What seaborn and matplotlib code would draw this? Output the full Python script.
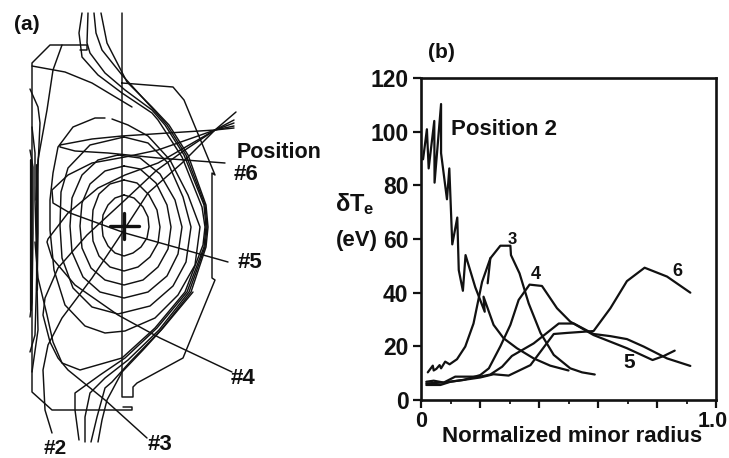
import numpy as np
import matplotlib
matplotlib.use('Agg')
import matplotlib.pyplot as plt
import matplotlib.transforms as mtrans
import seaborn as sns

# panel (b) profiles
pos2_r = [0.0, 0.007, 0.02, 0.026, 0.045, 0.046, 0.068, 0.068, 0.088, 0.096, 0.106, 0.123, 0.128, 0.142, 0.151, 0.184, 0.216, 0.212, 0.246, 0.28, 0.325, 0.382, 0.438, 0.5]
pos2_t = [90, 89.7, 100.9, 86.3, 104, 81, 110.3, 92, 74.8, 86.3, 58, 68, 48.4, 40.7, 54, 42, 32.9, 38.5, 28, 23, 19.3, 15.5, 12.8, 11]
pos3_r = [0.023, 0.04, 0.043, 0.052, 0.063, 0.068, 0.082, 0.097, 0.122, 0.15, 0.178, 0.207, 0.235, 0.269, 0.303, 0.305, 0.334, 0.365, 0.405, 0.45, 0.506, 0.546, 0.589]
pos3_t = [10.3, 12.8, 11, 11.6, 13, 11.8, 14.3, 13.3, 15.2, 19.9, 28.5, 44, 52.8, 57.5, 57.5, 54, 47.2, 36, 25, 16.8, 11.8, 10.3, 9.5]
tail3_r = [0.226, 0.235]
tail3_t = [43.5, 52.8]
pos4_r = [0.018, 0.066, 0.1, 0.145, 0.201, 0.23, 0.269, 0.303, 0.331, 0.368, 0.41, 0.461, 0.506, 0.585, 0.698, 0.785, 0.823, 0.86]
pos4_t = [5.6, 5.6, 6.8, 7.5, 9.3, 11.8, 20, 28, 37.3, 43, 42.5, 34.2, 29.2, 24.2, 19.3, 14.9, 16.4, 18.4]
pos5_r = [0.018, 0.043, 0.077, 0.116, 0.201, 0.235, 0.275, 0.308, 0.382, 0.467, 0.518, 0.585, 0.642, 0.698, 0.755, 0.834, 0.913]
pos5_t = [6.8, 7.2, 6.5, 8.7, 8.7, 9.5, 12.4, 16.4, 21.1, 28.5, 28.5, 24.6, 23.8, 22.7, 19.9, 15.5, 12.7]
pos6_r = [0.018, 0.077, 0.145, 0.201, 0.246, 0.297, 0.371, 0.405, 0.45, 0.495, 0.585, 0.642, 0.698, 0.758, 0.834, 0.913]
pos6_t = [6.2, 6.5, 7.5, 8.4, 9.6, 9.1, 13, 18, 24.6, 25, 25.7, 34.2, 44.3, 49.3, 46, 40]

y_ticks = [0, 20, 40, 60, 80, 100, 120]
x_major = [0, 0.2, 0.4, 0.6, 0.8, 1.0]
x_minor = [0.1, 0.3, 0.5, 0.7, 0.9]

# panel (a) outlines
wall_center = [(122, 13), (122, 397), (133, 397), (133, 387), (137, 383), (183, 358), (215, 280), (212, 278), (212, 173), (215, 175), (184, 100), (173, 87), (122, 83)]
wall_left = [(80, 50), (87, 50), (87, 45), (50, 45), (32, 63), (32, 392), (52, 410), (132, 410), (132, 407), (123, 407)]
rings = [
    [(124, 195), (134, 198), (143, 207), (148, 217), (149, 227), (147, 238), (141, 247), (133, 253), (124, 256), (115, 253), (108, 246), (103, 236), (102, 226), (103, 215), (108, 205), (115, 198), (124, 195)],
    [(124, 180), (137, 183), (149, 195), (157, 210), (160, 227), (158, 243), (150, 257), (138, 267), (124, 271), (110, 267), (99, 256), (93, 241), (92, 226), (93, 210), (99, 194), (110, 184), (124, 180)],
    [(124, 166), (140, 169), (156, 183), (167, 205), (171, 227), (168, 249), (158, 267), (143, 280), (124, 285), (105, 280), (91, 268), (82, 248), (80, 226), (82, 203), (90, 184), (105, 171), (124, 166)],
    [(118, 155), (140, 158), (160, 174), (175, 200), (182, 227), (178, 254), (167, 276), (148, 292), (124, 298), (100, 292), (83, 277), (72, 252), (70, 226), (72, 198), (82, 175), (98, 160), (118, 155)],
    [(124, 137), (148, 143), (168, 163), (183, 197), (191, 227), (186, 262), (173, 286), (150, 306), (118, 314), (92, 307), (73, 288), (62, 258), (60, 226), (61, 192), (68, 168), (90, 145), (124, 137)],
    [(112, 119), (128, 125), (148, 136), (170, 160), (188, 195), (200, 227), (195, 265), (178, 295), (155, 318), (125, 331), (105, 333), (85, 326), (65, 305), (54, 270), (50, 230), (50, 200), (53, 173), (58, 147), (73, 127), (95, 118), (105, 118)],
]
open_lines = [
    [(82, 13), (79, 33), (82, 57), (98, 75), (122, 93), (152, 113), (158, 120), (182, 157), (202, 207), (205, 227), (203, 245), (185, 292), (155, 328), (122, 358), (80, 370), (62, 363), (53, 342), (47, 315), (38, 278), (35, 242)],
    [(88, 13), (87, 43), (90, 53), (105, 73), (125, 90), (152, 110), (165, 125), (184, 155), (204, 205), (206, 227), (204, 247), (187, 292), (157, 328), (125, 358), (100, 375), (75, 393), (75, 410), (79, 440)],
    [(94, 13), (96, 33), (102, 50), (122, 75), (152, 108), (167, 125), (186, 155), (205, 205), (207, 227), (205, 247), (189, 292), (159, 330), (128, 360), (105, 378), (90, 393), (85, 417), (85, 442)],
    [(101, 13), (107, 43), (127, 82), (152, 107), (169, 125), (188, 155), (206, 205), (208, 227), (206, 247), (191, 292), (161, 330), (130, 362), (112, 382), (105, 388), (97, 417), (91, 442)],
    [(193, 292), (163, 328), (143, 350), (122, 372), (107, 400), (102, 420), (98, 442)],
]
left_lines = [
    [(30, 89), (38, 107), (40, 123), (38, 167), (38, 233), (37, 285), (38, 330), (32, 372)],
    [(32, 127), (35, 153), (35, 200), (37, 268), (35, 335), (30, 352)],
    [(30, 150), (33, 167), (33, 233), (32, 302), (30, 317)],
]
chord2 = [(236, 112), (215, 130), (182, 163), (148, 193), (122, 233), (92, 278), (62, 318), (48, 345), (43, 370), (45, 410), (52, 433)]
chord3 = [(234, 123), (215, 130), (185, 150), (157, 170), (125, 200), (100, 223), (87, 235), (58, 268), (45, 298), (43, 315), (50, 342), (58, 358), (68, 370), (105, 400), (147, 438)]
chord4 = [(234, 120), (215, 130), (158, 163), (125, 175), (98, 188), (68, 213), (48, 239), (47, 242), (52, 258), (75, 285), (118, 315), (160, 338), (232, 372)]
chord5 = [(234, 128), (215, 130), (158, 150), (125, 157), (92, 163), (68, 175), (52, 190), (53, 203), (70, 213), (125, 233), (228, 262)]
chord6 = [(234, 126), (215, 130), (168, 133), (122, 136), (92, 139), (60, 145), (60, 147), (75, 151), (108, 153), (158, 158), (225, 163)]
upper_line = [(32, 66), (65, 72), (92, 83), (132, 107)]
lower_line = [(62, 45), (53, 70), (47, 110), (38, 160), (36, 200)]
thick_walls = [[(31, 160), (31, 310)], [(37, 165), (37, 290)]]
cross_h = [(110, 226), (139, 226)]
cross_v = [(124, 213), (124, 239)]

W, H = 729, 458
sns.set_style('white')
plt.rcParams['font.family'] = ['Liberation Sans', 'DejaVu Sans']
plt.rcParams['font.weight'] = 'bold'
plt.rcParams['mathtext.default'] = 'regular'

fig = plt.figure(figsize=(W / 100, H / 100), dpi=100)


def trace(ax, pts, lw):
    p = np.array(pts)
    sns.lineplot(x=p[:, 0], y=p[:, 1], ax=ax, color='#111111', lw=lw, sort=False, estimator=None, legend=False)


# left schematic
ax_a = fig.add_axes([0, 0, 340 / W, 1])
thin = [wall_center, wall_left, upper_line, lower_line, chord2, chord3, chord4, chord5, chord6] + rings + open_lines + left_lines
for pts in thin:
    trace(ax_a, pts, 1.05)
for pts in thick_walls:
    trace(ax_a, pts, 1.6)
for pts in [cross_h, cross_v]:
    trace(ax_a, pts, 2.4)
ax_a.set_xlim(0, 340)
ax_a.set_ylim(458, 0)
ax_a.axis('off')

lab = dict(color='#111111', fontweight='bold', ha='center', va='center')
ax_a.text(27, 25, '(a)', fontsize=15, **lab)
ax_a.text(279, 152, 'Position', fontsize=15.5, **lab)
ax_a.text(246, 174, '#6', fontsize=16, **lab)
ax_a.text(250, 262, '#5', fontsize=16, **lab)
ax_a.text(243, 378, '#4', fontsize=16, **lab)
ax_a.text(160, 445, '#3', fontsize=16, **lab)
ax_a.text(55, 448, '#2', fontsize=15, **lab)

# right profiles
ax_b = fig.add_axes([421 / W, 1 - 400 / H, 295 / W, 322 / H])
for r, t in [(pos2_r, pos2_t), (pos3_r, pos3_t), (tail3_r, tail3_t), (pos4_r, pos4_t), (pos5_r, pos5_t), (pos6_r, pos6_t)]:
    sns.lineplot(x=r, y=t, ax=ax_b, color='#111111', lw=1.6, sort=False, estimator=None, legend=False)
ax_b.set_xlim(0, 1)
ax_b.set_ylim(0, 120)
ax_b.set_yticks(y_ticks)
ax_b.set_xticks(x_major)
ax_b.set_xticks(x_minor, minor=True)
ax_b.set_xticklabels(['0', '', '', '', '', '1.0'])
ax_b.tick_params(axis='y', which='major', left=True, length=6, width=1.6, labelsize=16.5, pad=3, colors='#111111')
ax_b.tick_params(axis='x', which='major', bottom=True, length=6, width=1.6, labelsize=15.5, pad=2, colors='#111111')
ax_b.tick_params(axis='x', which='minor', bottom=True, length=3, width=1.4)
ax_b.get_xticklabels()[-1].set_transform(ax_b.get_xticklabels()[-1].get_transform() + mtrans.Affine2D().translate(-3, 0))
for s in ax_b.spines.values():
    s.set_visible(True)
    s.set_linewidth(1.9)
    s.set_color('#111111')

txt = dict(color='#111111', fontweight='bold', ha='center', va='center', transform=ax_b.transAxes)
ax_b.text(0.283, 0.84, 'Position 2', fontsize=16, **txt)
ax_b.text(0.31, 0.50, '3', fontsize=12, **txt)
ax_b.text(0.388, 0.39, '4', fontsize=13, **txt)
ax_b.text(0.705, 0.115, '5', fontsize=15, **txt)
ax_b.text(0.87, 0.40, '6', fontsize=13, **txt)
fig.text(572 / W, 1 - 437 / H, 'Normalized minor radius', fontsize=16, color='#111111', fontweight='bold', ha='center', va='center')
fig.text(441 / W, 1 - 52 / H, '(b)', fontsize=15, color='#111111', fontweight='bold', ha='center', va='center')
fig.text(355 / W, 1 - 204 / H, r'$\delta$T$_e$', fontsize=17, color='#111111', ha='center', va='center')
fig.text(357 / W, 1 - 241 / H, '(eV)', fontsize=16, color='#111111', fontweight='bold', ha='center', va='center')

fig.savefig('out.png', dpi=100)
